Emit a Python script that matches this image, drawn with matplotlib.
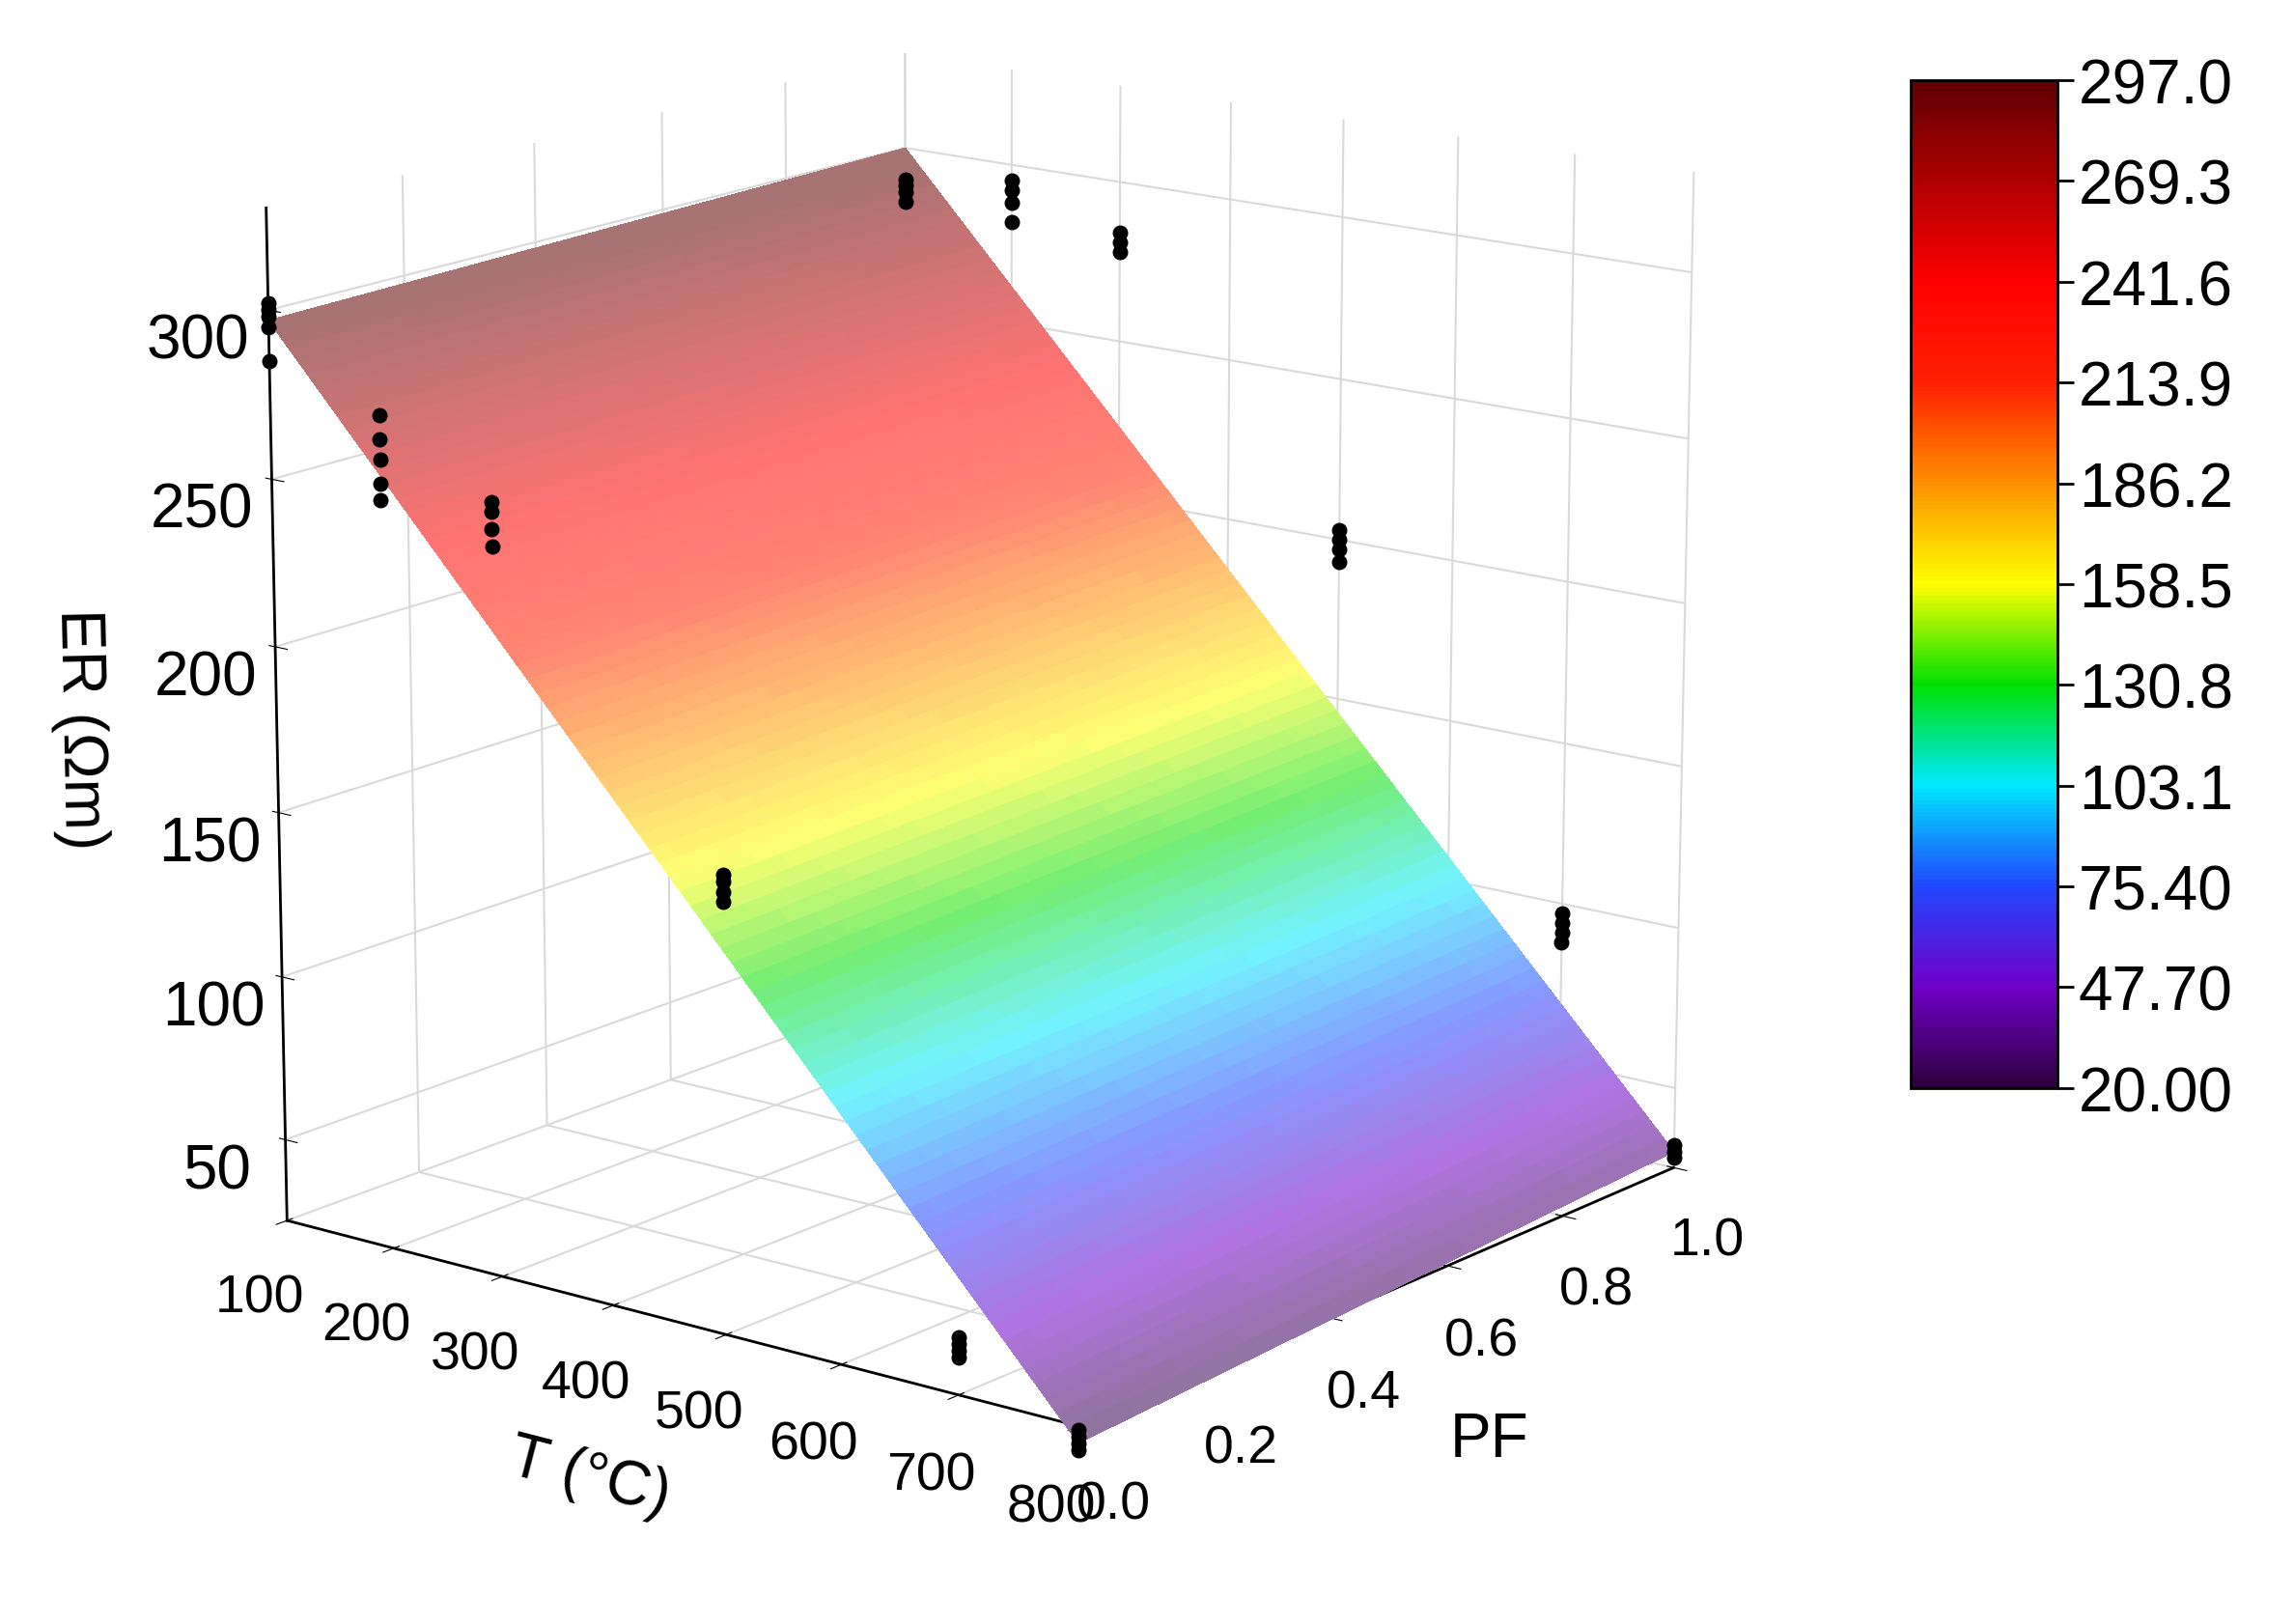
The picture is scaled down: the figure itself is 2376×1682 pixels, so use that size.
import numpy as np
import matplotlib
matplotlib.use("Agg")
import matplotlib.pyplot as plt
from matplotlib.colors import LinearSegmentedColormap, Normalize

plt.rcParams['font.family'] = ['Liberation Sans', 'DejaVu Sans']

# data
T_pts = [100]*5 + [200]*5 + [300]*4 + [500]*4 + [700]*4 + [800]*4 + \
        [100]*4 + [200]*4 + [300]*3 + [500]*4 + [700]*4 + [800]*3
PF_pts = [0]*26 + [1]*22
ER_pts = [285, 295, 298, 300, 302, 250, 255, 262, 268, 275, 243, 248, 253, 256,
          153, 156, 159, 161, 36, 38, 40, 42, 18, 20, 22, 24,
          283, 286, 288, 290, 282, 288, 292, 295, 278, 281, 284,
          193, 197, 200, 203, 88, 91, 94, 97, 28, 30, 32]
T_grid = [100, 800]
PF_grid = [0.0, 1.0]
ER_surface = [[297, 300], [20, 30]]  # rows T, cols PF
cbar_ticks = [20.00, 47.70, 75.40, 103.1, 130.8, 158.5, 186.2, 213.9, 241.6, 269.3, 297.0]
cbar_labels = ["20.00", "47.70", "75.40", "103.1", "130.8", "158.5", "186.2", "213.9", "241.6", "269.3", "297.0"]

cmap = LinearSegmentedColormap.from_list("origin_rainbow", [
    "#300040", "#7000c8", "#2048ff", "#00e8ff", "#00e000", "#ffff00",
    "#ff9000", "#ff2000", "#ff0000", "#b00000", "#600000"])
norm = Normalize(20, 297)

fig = plt.figure(figsize=(23.76, 16.83), dpi=100)
ax = fig.add_axes([-0.03, 0.03, 0.90, 1.05], projection="3d")
ax.set_box_aspect((1.08, 1.08, 1.12))

n = 80
Tm, Pm = np.meshgrid(np.linspace(T_grid[0], T_grid[1], n), np.linspace(PF_grid[0], PF_grid[1], n), indexing="ij")
E = np.array(ER_surface, dtype=float)
tt = (Tm - T_grid[0]) / (T_grid[1] - T_grid[0])
Em = E[0, 0]*(1-tt)*(1-Pm) + E[0, 1]*(1-tt)*Pm + E[1, 0]*tt*(1-Pm) + E[1, 1]*tt*Pm
fc = cmap(norm(Em))
a = 0.55
fc[..., :3] = fc[..., :3]*a + (1-a)
fc[..., 3] = 1.0
ax.plot_surface(Tm, Pm, Em, facecolors=fc, linewidth=0, antialiased=False, shade=False, rcount=n, ccount=n)
ax.scatter(T_pts, PF_pts, ER_pts, color="black", s=110, depthshade=False, alpha=1)

ax.set_xlim(100, 800)
ax.set_ylim(0, 1)
ax.set_zlim(25, 330)
ax.set_xticks([100, 200, 300, 400, 500, 600, 700, 800])
ax.set_yticks([0.0, 0.2, 0.4, 0.6, 0.8, 1.0])
ax.set_yticklabels(["0.0", "0.2", "0.4", "0.6", "0.8", "1.0"])
ax.set_zticks([50, 100, 150, 200, 250, 300])
ax.tick_params(axis='x', labelsize=40, pad=20)
ax.tick_params(axis='y', labelsize=40, pad=20)
ax.tick_params(axis='z', labelsize=46, pad=24)
ax.set_xlabel("T (°C)", fontsize=46, labelpad=60)
ax.set_ylabel("PF", fontsize=46, labelpad=60)
ax.set_zlabel("ER (Ωm)", fontsize=46, labelpad=70)
for ax_ in (ax.xaxis, ax.yaxis, ax.zaxis):
    ax_.set_pane_color((1, 1, 1, 0))
    ax_._axinfo["grid"]["color"] = (0.85, 0.85, 0.85, 1)
    ax_._axinfo["grid"]["linewidth"] = 1.5
    ax_.line.set_linewidth(2)
ax.zaxis._axinfo['juggled'] = (1, 2, 0)
ax.view_init(elev=15, azim=-52)

cax = fig.add_axes([0.833, 0.33, 0.064, 0.62])
sm = plt.cm.ScalarMappable(norm=norm, cmap=cmap)
cb = fig.colorbar(sm, cax=cax, ticks=cbar_ticks)
cb.ax.set_yticklabels(cbar_labels)
cb.ax.tick_params(labelsize=46, length=12, width=2)
cb.outline.set_linewidth(2)

fig.savefig("out.png", dpi=100)
